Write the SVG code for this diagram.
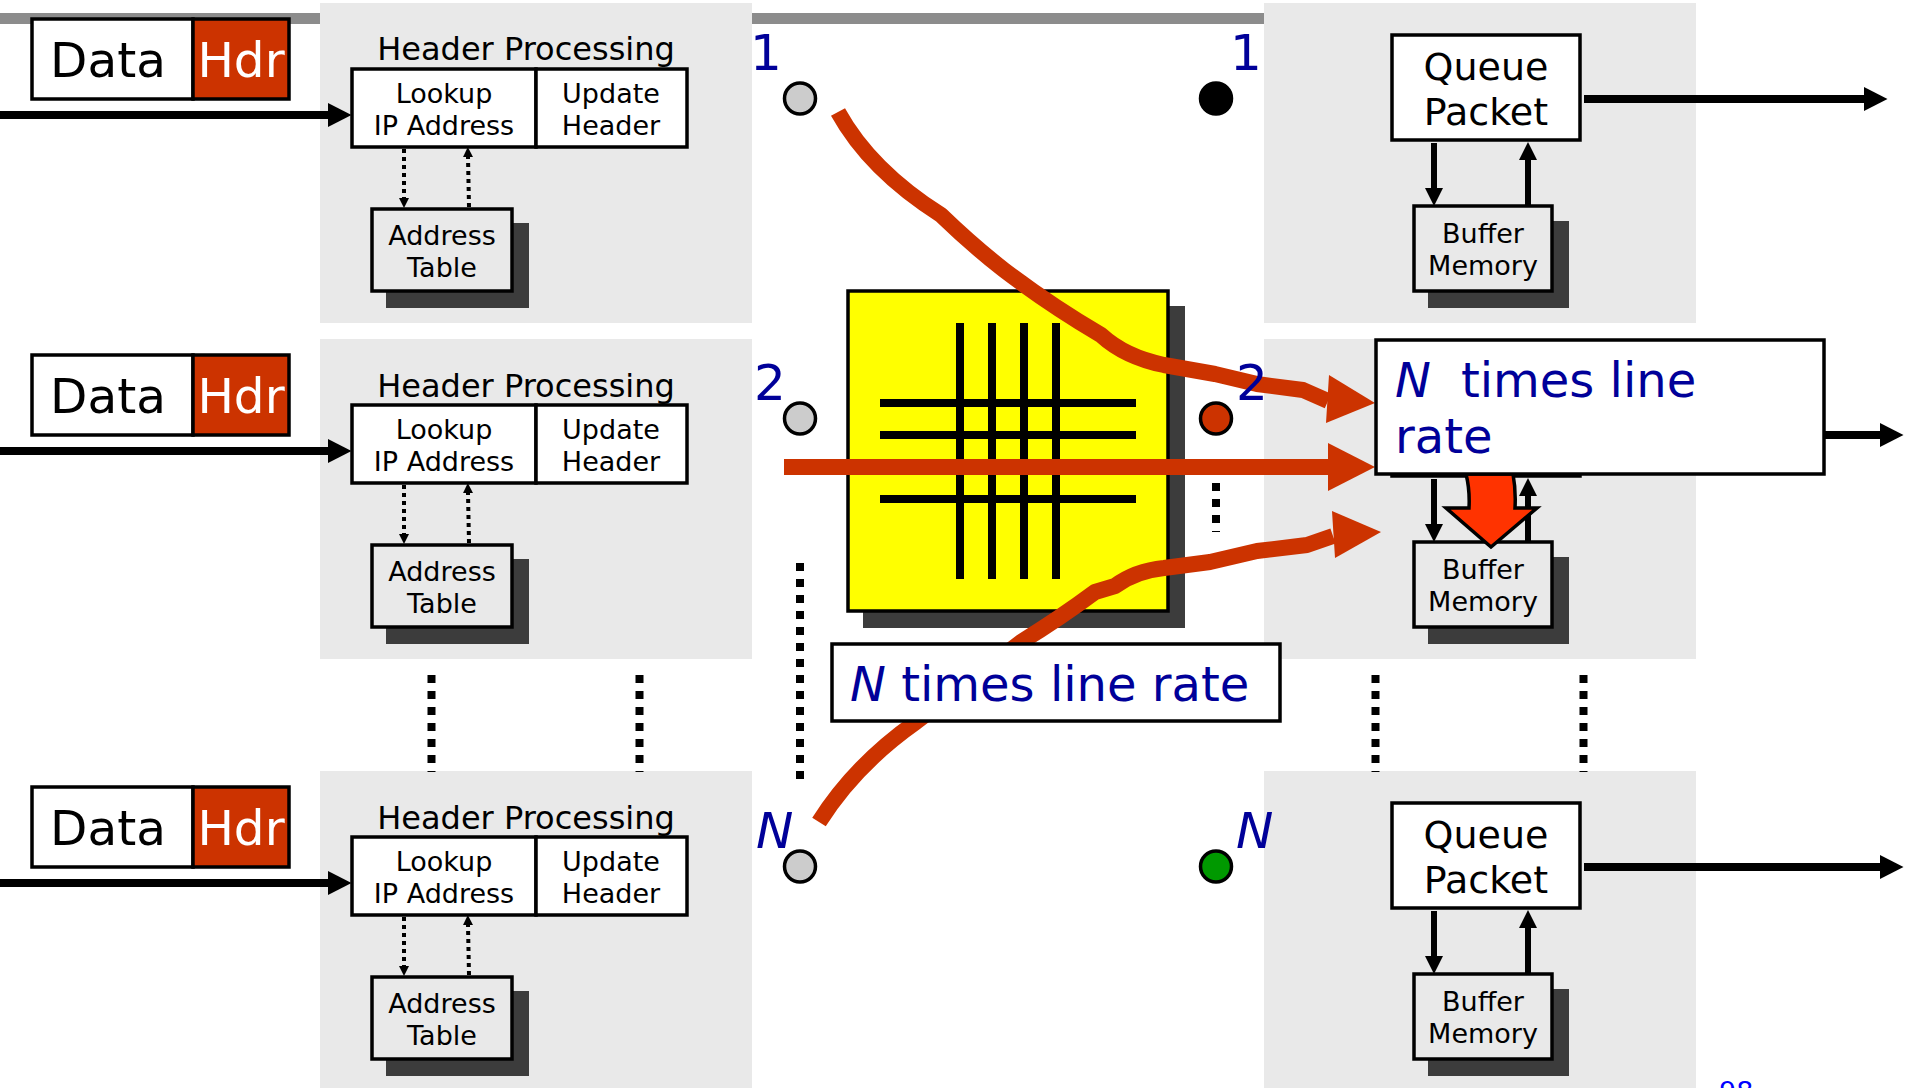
<svg xmlns="http://www.w3.org/2000/svg" width="1905" height="1088" viewBox="0 0 1905 1088">
<style>
text{font-family:"DejaVu Sans",sans-serif;fill:#000}
.m{text-anchor:middle}
.panel{fill:#e9e9e9}
.shadow{fill:#3c3c3c}
.white{fill:#fff;stroke:#000;stroke-width:3.5}
.grey{fill:#e9e9e9;stroke:#000;stroke-width:3.5}
.f27{font-size:27px}
.f31{font-size:32px}
.f38{font-size:38px}
.f46{font-size:48.500px}
.blue{fill:#000099;font-size:50px}
.call{fill:#000099;font-size:48px}
.it{font-style:italic}
.thick{stroke:#000;stroke-width:8;fill:none;marker-end:url(#hd)}
.mid{stroke:#000;stroke-width:6;fill:none;marker-end:url(#mh)}
.dotarrow{stroke:#000;stroke-width:4;stroke-dasharray:4 4;fill:none;marker-end:url(#dh)}
.dots{stroke:#000;stroke-width:8;stroke-dasharray:8 8;fill:none}
.red{stroke:#cc3300;stroke-width:16;fill:none;stroke-linejoin:round}
.grid{stroke:#000;stroke-width:8;fill:none}
.dot{stroke:#000;stroke-width:3.5}
</style>
<defs>
<marker id="hd" markerUnits="userSpaceOnUse" markerWidth="24" markerHeight="26" refX="0" refY="13" orient="auto" viewBox="0 0 24 26"><path d="M0,1 L23.500,13 L0,25z" fill="#000"/></marker>
<marker id="mh" markerUnits="userSpaceOnUse" markerWidth="18" markerHeight="18" refX="0" refY="9" orient="auto" viewBox="0 0 18 18"><path d="M0,0 L18,9 L0,18z" fill="#000"/></marker>
<marker id="dh" markerUnits="userSpaceOnUse" markerWidth="10" markerHeight="10" refX="0" refY="5" orient="auto" viewBox="0 0 10 10"><path d="M0,0 L10,5 L0,10z" fill="#000"/></marker>
</defs>
<rect id="bar" x="0" y="13" width="1264" height="11" fill="#8c8c8c"/>

<g id="panel-in-1">
<rect class="panel" x="320" y="3" width="432" height="320"/>
<text class="m f31" x="526" y="60">Header Processing</text>
</g>
<g id="panel-in-2">
<rect class="panel" x="320" y="339" width="432" height="320"/>
<text class="m f31" x="526" y="397">Header Processing</text>
</g>
<g id="panel-in-3">
<rect class="panel" x="320" y="771" width="432" height="317"/>
<text class="m f31" x="526" y="829">Header Processing</text>
</g>
<g id="panel-out-1"><rect class="panel" x="1264" y="3" width="432" height="320"/></g>
<g id="panel-out-2"><rect class="panel" x="1264" y="339" width="432" height="320"/></g>
<g id="panel-out-3"><rect class="panel" x="1264" y="771" width="432" height="317"/></g>

<g id="packet-1">
<rect class="white" x="32" y="19" width="161" height="80"/><rect x="193" y="19" width="96" height="80" fill="#cc3300" stroke="#000" stroke-width="3.5"/>
<text class="m f46" x="108" y="77">Data</text><text class="m f46" x="241" y="77" style="fill:#fff">Hdr</text>
</g>
<g id="packet-2">
<rect class="white" x="32" y="355" width="161" height="80"/><rect x="193" y="355" width="96" height="80" fill="#cc3300" stroke="#000" stroke-width="3.5"/>
<text class="m f46" x="108" y="413">Data</text><text class="m f46" x="241" y="413" style="fill:#fff">Hdr</text>
</g>
<g id="packet-3">
<rect class="white" x="32" y="787" width="161" height="80"/><rect x="193" y="787" width="96" height="80" fill="#cc3300" stroke="#000" stroke-width="3.5"/>
<text class="m f46" x="108" y="845">Data</text><text class="m f46" x="241" y="845" style="fill:#fff">Hdr</text>
</g>

<g id="lookup-1"><rect class="white" x="352" y="69" width="184" height="78"/><text class="m f27" x="444" y="103">Lookup</text><text class="m f27" x="444" y="135">IP Address</text></g>
<g id="update-1"><rect class="white" x="536" y="69" width="151" height="78"/><text class="m f27" x="611" y="103">Update</text><text class="m f27" x="611" y="135">Header</text></g>
<g id="table-1"><rect class="shadow" x="386" y="223" width="143" height="85"/><rect class="grey" x="372" y="209" width="140" height="82"/><text class="m f27" x="442" y="245">Address</text><text class="m f27" x="442" y="277">Table</text></g>

<g id="lookup-2"><rect class="white" x="352" y="405" width="184" height="78"/><text class="m f27" x="444" y="439">Lookup</text><text class="m f27" x="444" y="471">IP Address</text></g>
<g id="update-2"><rect class="white" x="536" y="405" width="151" height="78"/><text class="m f27" x="611" y="439">Update</text><text class="m f27" x="611" y="471">Header</text></g>
<g id="table-2"><rect class="shadow" x="386" y="559" width="143" height="85"/><rect class="grey" x="372" y="545" width="140" height="82"/><text class="m f27" x="442" y="581">Address</text><text class="m f27" x="442" y="613">Table</text></g>

<g id="lookup-3"><rect class="white" x="352" y="837" width="184" height="78"/><text class="m f27" x="444" y="871">Lookup</text><text class="m f27" x="444" y="903">IP Address</text></g>
<g id="update-3"><rect class="white" x="536" y="837" width="151" height="78"/><text class="m f27" x="611" y="871">Update</text><text class="m f27" x="611" y="903">Header</text></g>
<g id="table-3"><rect class="shadow" x="386" y="991" width="143" height="85"/><rect class="grey" x="372" y="977" width="140" height="82"/><text class="m f27" x="442" y="1013">Address</text><text class="m f27" x="442" y="1045">Table</text></g>

<g id="queue-1"><rect class="white" x="1392" y="35" width="188" height="105"/><text class="m f38" x="1486" y="80">Queue</text><text class="m f38" x="1486" y="125">Packet</text></g>
<g id="buffer-1"><rect class="shadow" x="1428" y="221" width="141" height="87"/><rect class="grey" x="1414" y="206" width="138" height="85"/><text class="m f27" x="1483" y="243">Buffer</text><text class="m f27" x="1483" y="275">Memory</text></g>
<g id="queue-2"><rect class="white" x="1392" y="371" width="188" height="105"/></g>
<g id="buffer-2"><rect class="shadow" x="1428" y="557" width="141" height="87"/><rect class="grey" x="1414" y="542" width="138" height="85"/><text class="m f27" x="1483" y="579">Buffer</text><text class="m f27" x="1483" y="611">Memory</text></g>
<g id="queue-3"><rect class="white" x="1392" y="803" width="188" height="105"/><text class="m f38" x="1486" y="848">Queue</text><text class="m f38" x="1486" y="893">Packet</text></g>
<g id="buffer-3"><rect class="shadow" x="1428" y="989" width="141" height="87"/><rect class="grey" x="1414" y="974" width="138" height="85"/><text class="m f27" x="1483" y="1011">Buffer</text><text class="m f27" x="1483" y="1043">Memory</text></g>

<g id="connectors">
<path class="thick" d="M0,115H328"/><path class="thick" d="M0,451H328"/><path class="thick" d="M0,883H328"/>
<path class="thick" d="M1584,99H1864"/><path class="thick" d="M1584,435H1880"/><path class="thick" d="M1584,867H1880"/>
<path class="dotarrow" d="M404,149V198"/><path class="dotarrow" d="M469,207L468,157"/>
<path class="dotarrow" d="M404,485V534"/><path class="dotarrow" d="M469,543L468,493"/>
<path class="dotarrow" d="M404,917V966"/><path class="dotarrow" d="M469,975L468,925"/>
<path class="mid" d="M1434,143V188"/><path class="mid" d="M1528,205V160"/>
<path class="mid" d="M1434,479V524"/><path class="mid" d="M1528,541V496"/>
<path class="mid" d="M1434,911V956"/><path class="mid" d="M1528,973V928"/>
<path class="dots" d="M431.500,675V772"/><path class="dots" d="M639.500,675V772"/><path class="dots" d="M1375.500,675V772"/><path class="dots" d="M1583.500,675V772"/>
<path class="dots" d="M800,563V787"/><path class="dots" d="M1216,483V532"/>
</g>

<g id="big-arrow"><path d="M1466,474 Q1470,490 1469,508 H1446 L1491,547 L1537,508 H1515 Q1516,490 1513,474z" fill="#ff3300" stroke="#000" stroke-width="3.5"/></g>

<g id="crossbar">
<rect class="shadow" x="863" y="306" width="322" height="322"/>
<rect x="848" y="291" width="320" height="320" fill="#ffff00" stroke="#000" stroke-width="3.5"/>
<path class="grid" d="M960,323V579M992,323V579M1024,323V579M1056,323V579M880,403H1136M880,435H1136M880,467H1136M880,499H1136"/>
</g>

<g id="port-in-1"><circle class="dot" cx="800" cy="98.500" r="15.500" fill="#cccccc"/><text class="blue" x="750" y="70">1</text></g>
<g id="port-in-2"><circle class="dot" cx="800" cy="418.500" r="15.500" fill="#cccccc"/><text class="blue" x="754" y="400">2</text></g>
<g id="port-in-3"><circle class="dot" cx="800" cy="866.500" r="15.500" fill="#cccccc"/><text class="blue it" x="756" y="848">N</text></g>
<g id="port-out-1"><circle class="dot" cx="1216" cy="98.500" r="15.500" fill="#000"/><text class="blue" x="1230" y="70">1</text></g>
<g id="port-out-2"><circle class="dot" cx="1216" cy="418.500" r="15.500" fill="#cc3300"/></g>
<g id="port-out-3"><circle class="dot" cx="1216" cy="866.500" r="15.500" fill="#009900"/><text class="blue it" x="1236" y="848">N</text></g>

<g id="flows">
<path class="red" d="M838,112 Q870,170 941,215 Q972,245 1004,270 Q1050,305 1101,335 Q1125,357 1164,365 L1215,374 L1257,384 L1303,390 L1328,401"/>
<path d="M1329,375 L1375,403 L1326,423z" fill="#cc3300"/>
<path d="M784,467H1328" stroke="#cc3300" stroke-width="16" fill="none"/>
<path d="M1328,443 L1375,467 L1328,491z" fill="#cc3300"/>
<path class="red" d="M819,822 Q855,765 916,722 L1021,642 Q1060,618 1095,592 L1115,586 Q1135,571 1164,568 L1210,562 L1257,551 L1307,545 L1333,536"/>
<path d="M1332,511 L1381,532 L1335,558z" fill="#cc3300"/>
</g>

<text id="label-out-2" class="blue" x="1236" y="400">2</text>

<g id="callout-1"><rect class="white" x="832" y="644" width="448" height="77"/><text class="call" x="850" y="701"><tspan class="it">N</tspan> times line rate</text></g>
<g id="callout-2"><rect class="white" x="1376" y="340" width="448" height="134"/><text class="call" x="1395" y="397"><tspan class="it">N</tspan><tspan dx="30">times line</tspan></text><text class="call" x="1395" y="453">rate</text></g>
<text id="page-number" x="1719" y="1101" style="fill:#0000ff;font-size:27px">98</text>
</svg>
